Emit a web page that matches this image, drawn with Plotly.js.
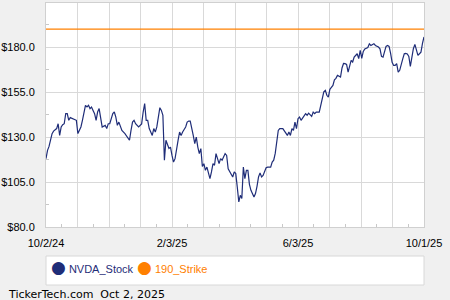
<!DOCTYPE html>
<html>
<head>
<meta charset="utf-8">
<script src="https://cdn.plot.ly/plotly-3.0.1.min.js"></script>
<style>
html,body{margin:0;padding:0;background:#f0f0f0;}
#chart{width:450px;height:300px;}
</style>
</head>
<body>
<div id="chart"></div>
<script>
// Trading-day index (0 = 10/2/24, 249 = 10/1/25)
const dayIndex = [0,1,2,4,5,7,8,9,10,11,12,13,14,15,16,18,20,21,23,24,26,27,28,29,30,31,32,33,34,35,36,37,39,40,41,42,44,45,46,47,48,49,50,52,54,55,56,57,58,59,61,62,63,64,65,66,67,68,70,71,72,73,74,75,76,77,78,79,81,82,83,84,85,86,87,88,89,90,92,93,94,95,96,97,98,99,100,101,102,103,104,105,106,108,109,110,111,112,113,114,115,116,118,119,120,121,122,123,124,125,126,127,128,129,130,131,132,133,134,135,137,138,139,140,141,142,143,144,145,146,148,149,150,151,152,153,154,156,157,158,159,160,161,162,163,164,165,166,167,168,170,171,172,173,175,176,177,178,180,181,182,183,184,185,186,187,188,189,190,191,192,194,195,196,197,198,199,200,201,202,203,205,206,207,208,209,210,212,213,214,216,217,219,220,221,222,223,224,225,226,227,228,229,230,231,232,233,234,235,236,237,238,239,240,241,242,243,244,245,246,247,248,249];
const nvdaClose = [118.0,122.6,124.8,131.9,133.3,134.7,137.4,130.9,135.6,136.9,137.4,143.0,143.0,139.3,140.8,140.2,139.3,131.9,135.6,139.3,147.6,146.7,147.6,145.8,146.7,144.8,143.0,139.3,143.9,145.8,141.1,135.6,136.5,134.7,137.4,137.4,143.0,143.9,141.1,136.5,138.3,135.6,133.7,131.9,129.1,128.2,133.7,138.3,139.3,137.4,135.6,136.5,137.3,143.9,148.6,139.3,139.3,134.7,130.9,134.7,132.8,135.6,140.2,146.3,144.8,142.1,117.1,128.2,123.6,124.4,119.8,116.1,118.0,124.4,128.2,132.8,130.9,132.8,135.6,138.3,138.9,138.9,135.6,130.9,126.3,130.0,124.4,120.8,123.6,113.7,115.2,111.5,113.3,106.9,110.6,115.2,114.3,120.8,118.0,115.2,118.0,117.1,120.8,119.8,112.4,110.6,108.7,107.8,110.6,109.7,102.2,93.9,97.6,95.8,113.3,106.9,111.5,111.5,103.7,100.4,96.7,98.6,102.6,107.8,110.1,107.8,108.7,110.6,112.9,113.3,113.3,116.1,117.1,120.9,129.1,133.7,134.7,134.7,133.4,131.9,130.9,132.8,130.9,134.7,133.7,138.3,134.7,140.2,141.1,139.3,141.5,143.0,142.1,143.3,141.5,143.9,143.0,143.9,143.9,147.6,152.2,155.1,155.9,153.2,152.2,156.5,157.6,158.7,161.8,162.6,164.3,163.3,168.4,170.9,170.8,170.4,166.1,168.9,172.6,171.7,174.4,176.3,173.6,178.2,173.7,177.6,179.0,179.8,181.8,180.9,181.9,180.9,180.0,179.0,174.8,174.4,178.4,180.4,180.9,180.4,176.5,171.5,169.8,169.8,170.8,166.1,167.1,170.9,173.4,176.3,176.5,176.2,174.8,169.3,175.4,179.1,181.5,178.2,175.4,176.3,177.2,182.1,185.6];
const strikePrice = 190;
const strikeDays = [0, 249];
const xTickLabels = ['10/2/24','2/3/25','6/3/25','10/1/25'];
const seriesNames = ['NVDA_Stock','190_Strike'];
const footerText = 'TickerTech.com&nbsp;&nbsp;Oct 2, 2025';

const navy = '#1f2d78';
const orange = '#ff8000';
const seriesColors = [navy, orange];
const lastDay = 249;
const nGrid = 12;
const gridStep = lastDay / nGrid;
const gridVals = [], gridText = [];
for (let k = 0; k <= nGrid; k++) {
  gridVals.push(k * gridStep);
  gridText.push(k % 4 === 0 ? xTickLabels[k / 4] : '');
}

const traces = [
  {x: dayIndex, y: nvdaClose, name: seriesNames[0], mode: 'lines', line: {color: navy, width: 1.2}, showlegend: false, hoverinfo: 'skip'},
  {x: strikeDays, y: [strikePrice, strikePrice], name: seriesNames[1], mode: 'lines', line: {color: orange, width: 1.3}, showlegend: false, hoverinfo: 'skip'}
];

const plotH = 224, plotW = 378, plotL = 46, plotB = 227;
const px = v => (v - plotL) / plotW;
const py = v => (plotB - v) / plotH;

// legend entries (bullet + name), positioned in the legend box
const legendStarts = [48.5, 135];
const legendAnn = seriesNames.map((n, i) => ({
  xref: 'paper', yref: 'paper', x: px(legendStarts[i]), y: py(266.5),
  xanchor: 'left', yanchor: 'middle', showarrow: false,
  text: '<span style="font-size:17px;font-family:DejaVu Sans">●</span> ' + n,
  font: {size: 11, color: seriesColors[i], family: 'Arial, sans-serif'}
}));

const layout = {
  width: 450, height: 300,
  margin: {l: 46, r: 26, t: 3, b: 73, pad: 0},
  paper_bgcolor: '#f0f0f0',
  plot_bgcolor: '#ffffff',
  font: {family: 'Arial, sans-serif', size: 11, color: '#000'},
  showlegend: false,
  xaxis: {
    range: [0, lastDay], tickmode: 'array', tickvals: gridVals, ticktext: gridText,
    showgrid: true, gridcolor: '#d9d9d9', gridwidth: 1, zeroline: false,
    showline: true, linecolor: '#d0d0d0', mirror: true, ticks: '', ticklen: 0,
    ticklabelstandoff: 6,
    tickfont: {size: 11, color: '#000', family: 'Arial, sans-serif'},
    minor: {tick0: gridStep / 2, dtick: gridStep, ticks: 'inside', ticklen: 3, tickcolor: '#c8c8c8', showgrid: false},
    fixedrange: true
  },
  yaxis: {
    range: [80, 204.5], tick0: 80, dtick: 25, tickprefix: '$', tickformat: '.1f',
    showgrid: true, gridcolor: '#d9d9d9', gridwidth: 1, zeroline: false,
    showline: true, linecolor: '#d0d0d0', mirror: true, ticks: '',
    ticklabelstandoff: 8,
    tickfont: {size: 11, color: '#000', family: 'Arial, sans-serif'},
    minor: {tick0: 92.5, dtick: 25, ticks: 'inside', ticklen: 3, tickcolor: '#c8c8c8', showgrid: false},
    fixedrange: true
  },
  shapes: [{
    type: 'rect', xref: 'paper', yref: 'paper', layer: 'below',
    x0: 0, x1: 1, y0: py(285), y1: py(256),
    fillcolor: '#ffffff', line: {color: '#d8d8d8', width: 1}
  }],
  annotations: legendAnn.concat([{
    xref: 'paper', yref: 'paper', x: px(6), y: py(294),
    xanchor: 'left', yanchor: 'middle', showarrow: false, text: footerText,
    font: {size: 11, color: '#000', family: '"DejaVu Sans", sans-serif'}
  }])
};

Plotly.newPlot('chart', traces, layout, {staticPlot: true, displayModeBar: false});
</script>
</body>
</html>
